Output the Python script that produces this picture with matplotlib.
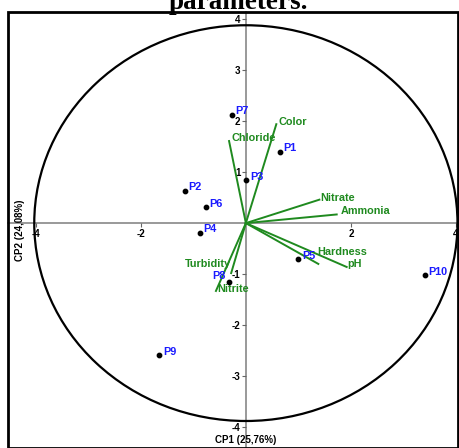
import numpy as np
import matplotlib.pyplot as plt
from matplotlib.patches import Ellipse, Rectangle

# sample scores (CP1, CP2)
points = ['P1', 'P2', 'P3', 'P4', 'P5', 'P6', 'P7', 'P8', 'P9', 'P10']
px = [0.65, -1.16, 0.01, -0.88, 1.00, -0.76, -0.27, -0.32, -1.65, 3.41]
py = [1.40, 0.63, 0.84, -0.19, -0.71, 0.31, 2.13, -1.15, -2.59, -1.02]

# variable loadings (arrow tips)
variables = ['Color', 'Chloride', 'Nitrate', 'Ammonia', 'Hardness', 'pH', 'Turbidity', 'Nitrite']
vx = [0.58, -0.32, 1.40, 1.73, 1.38, 1.92, -0.28, -0.57]
vy = [1.94, 1.61, 0.46, 0.17, -0.80, -0.86, -0.98, -1.33]

xticks = [-4, -2, 2, 4]
yticks = [-4, -3, -2, -1, 1, 2, 3, 4]

green = '#1f8a1f'
blue = '#1a1aff'

fig = plt.figure(figsize=(4.59, 4.48), dpi=100)
ax = fig.add_axes([8 / 459, 1 / 448, 450 / 459, 435 / 448])
ax.set_xlim(-4.53, 4.04)
ax.set_ylim(-4.39, 4.14)

for s in ['top', 'right']:
    ax.spines[s].set_visible(False)
for s in ['left', 'bottom']:
    ax.spines[s].set_position('zero')
    ax.spines[s].set_color('#888888')
    ax.spines[s].set_linewidth(1.2)
    ax.spines[s].set_zorder(1)

ax.set_xticks(xticks)
ax.set_xticklabels([str(t) for t in xticks])
ax.set_yticks(yticks)
ax.set_yticklabels([str(t) for t in yticks])
ax.tick_params(axis='both', length=3, width=0.8, color='#666666', labelsize=7, pad=1)
for lab in ax.get_xticklabels() + ax.get_yticklabels():
    lab.set_fontweight('bold')
    lab.set_family('Liberation Sans')

ax.add_patch(Ellipse((0, 0), 2 * 4.03, 2 * 3.88, fill=False, ec='black', lw=1.6, zorder=2))

for x, y in zip(vx, vy):
    ax.plot([0, x], [0, y], color=green, lw=1.4, zorder=3)

vlab_pos = {
    'Color': (0.63, 1.98),
    'Chloride': (-0.27, 1.67),
    'Nitrate': (1.41, 0.49),
    'Ammonia': (1.81, 0.24),
    'Hardness': (1.35, -0.57),
    'pH': (1.94, -0.80),
    'Turbidity': (-1.16, -0.80),
    'Nitrite': (-0.55, -1.29),
}
for v in variables:
    x, y = vlab_pos[v]
    ax.text(x, y, v, color=green, fontsize=7.8, fontweight='bold', family='Liberation Sans',
            ha='left', va='center', zorder=4)

ax.scatter(px, py, s=10, color='black', zorder=5)
for p, x, y in zip(points, px, py):
    if p == 'P8':
        ax.text(x - 0.07, y + 0.12, p, color=blue, fontsize=7.8, fontweight='bold',
                family='Liberation Sans', ha='right', va='center', zorder=6)
    else:
        ax.text(x + 0.07, y + 0.07, p, color=blue, fontsize=7.8, fontweight='bold',
                family='Liberation Sans', ha='left', va='center', zorder=6)

fig.text(246 / 459, 1 - 440 / 448, 'CP1 (25,76%)', fontsize=7, fontweight='bold',
         family='Liberation Sans', ha='center', va='center')
fig.text(20 / 459, 1 - 230 / 448, 'CP2 (24,08%)', fontsize=7, fontweight='bold',
         family='Liberation Sans', ha='center', va='center', rotation=90)

# outer frame
fig.patches.append(Rectangle((8 / 459, 0), 450 / 459, 1 - 12 / 448, transform=fig.transFigure,
                             fill=False, ec='black', lw=2, zorder=10))

fig.text(238 / 459, 1 - 9 / 448, 'parameters.', fontsize=19.5, fontweight='bold',
         family='Liberation Serif', ha='center', va='baseline')

fig.savefig('out.png', dpi=100)
